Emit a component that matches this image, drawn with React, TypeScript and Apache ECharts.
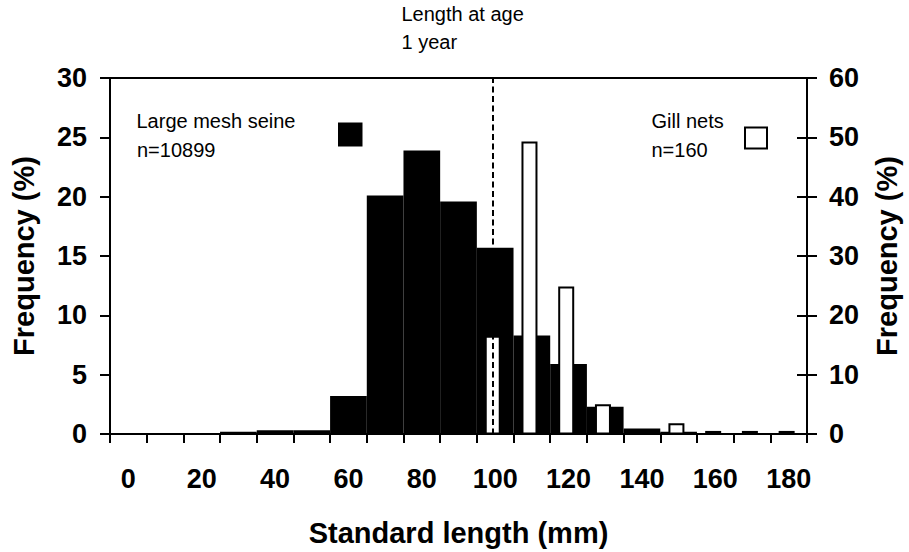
import React, { useEffect, useRef } from "react";
import * as echarts from "echarts";

// Length bins (mm), labelled at bin centres
const lengthBins = ["0", "10", "20", "30", "40", "50", "60", "70", "80", "90", "100", "110", "120", "130", "140", "150", "160", "170", "180"];
// Large mesh seine, % (left axis)
const seinePercent = [0, 0, 0, 0.18, 0.32, 0.32, 3.2, 20.1, 23.9, 19.6, 15.7, 8.3, 5.9, 2.3, 0.46, 0.18, 0.05, 0.03, 0.03];
// Gill nets, % (right axis)
const gillNetPercent = [null, null, null, null, null, null, null, null, null, null, 16.6, 49.3, 24.9, 5.1, null, 1.9, 0.6, 0.6, 0.6];
const ageLineBin = "100";
const ageLabel = ["Length at age", "1 year"];
const seineLabel = ["Large mesh seine", "n=10899"];
const gillLabel = ["Gill nets", "n=160"];
const xTitle = "Standard length (mm)";
const yTitle = "Frequency (%)";

const FONT = 'Arial, "Liberation Sans", Helvetica, sans-serif';

export default function App() {
  const ref = useRef<HTMLDivElement>(null);
  useEffect(() => {
    const chart = echarts.init(ref.current!, null, { renderer: "svg" });
    const tickLabel = { color: "#000", fontSize: 27, fontWeight: "bold", fontFamily: FONT };
    const nameStyle = { color: "#000", fontSize: 29, fontWeight: "bold", fontFamily: FONT };
    const axisLine = { show: true, lineStyle: { color: "#000", width: 2 } };
    const tickStyle = { color: "#000", width: 2 };
    const txt = (text: string, x: number, y: number) => ({
      type: "text",
      x,
      y,
      z: 20,
      style: { text, fontSize: 20, fontFamily: FONT, fill: "#000", verticalAlign: "middle", align: "left" },
    });
    chart.setOption({
      animation: false,
      backgroundColor: "#fff",
      grid: [
        { left: 110, right: 101, top: 78, bottom: 117.5, show: true, borderColor: "#000", borderWidth: 2 },
        { left: 107, right: 104, top: 78, bottom: 117.5 },
      ],
      xAxis: [
        {
          type: "category",
          gridIndex: 0,
          data: lengthBins,
          boundaryGap: true,
          name: xTitle,
          nameLocation: "middle",
          nameGap: 84,
          nameTextStyle: nameStyle,
          axisLine,
          axisTick: { show: true, interval: 0, length: 9, lineStyle: tickStyle },
          axisLabel: { ...tickLabel, interval: 1, margin: 31 },
          splitLine: { show: false },
        },
        { type: "category", gridIndex: 1, data: lengthBins, show: false },
      ],
      yAxis: [
        {
          type: "value",
          gridIndex: 0,
          position: "left",
          min: 0,
          max: 30,
          interval: 5,
          name: yTitle,
          nameLocation: "middle",
          nameRotate: 90,
          nameGap: 72,
          nameTextStyle: nameStyle,
          axisLine,
          axisTick: { show: true, length: 10, lineStyle: tickStyle },
          axisLabel: { ...tickLabel, margin: 23 },
          splitLine: { show: false },
        },
        {
          type: "value",
          gridIndex: 0,
          position: "right",
          min: 0,
          max: 60,
          interval: 10,
          name: yTitle,
          nameLocation: "middle",
          nameRotate: 90,
          nameGap: 65,
          nameTextStyle: nameStyle,
          axisLine,
          axisTick: { show: true, length: 10, lineStyle: tickStyle },
          axisLabel: { ...tickLabel, margin: 22 },
          splitLine: { show: false },
        },
        {
          type: "value",
          gridIndex: 0,
          position: "right",
          min: 0,
          max: 60,
          interval: 10,
          axisLine: { show: false },
          axisTick: { show: true, inside: true, length: 10, lineStyle: tickStyle },
          axisLabel: { show: false },
          splitLine: { show: false },
        },
        { type: "value", gridIndex: 1, min: 0, max: 60, show: false },
      ],
      series: [
        {
          type: "bar",
          name: seineLabel[0],
          xAxisIndex: 0,
          yAxisIndex: 0,
          data: seinePercent,
          barWidth: "100%",
          itemStyle: { color: "#000", borderColor: "#000", borderWidth: 1.6 },
          silent: true,
        },
        {
          type: "bar",
          name: gillLabel[0],
          xAxisIndex: 1,
          yAxisIndex: 3,
          data: gillNetPercent,
          barWidth: 16,
          itemStyle: { color: "#fff", borderColor: "#000", borderWidth: 2 },
          silent: true,
          markLine: {
            silent: true,
            symbol: "none",
            z: 10,
            label: { show: false },
            lineStyle: { color: "#000", width: 2, type: [6, 3.5] },
            data: [{ xAxis: ageLineBin }],
          },
        },
      ],
      graphic: [
        txt(ageLabel[0], 401.5, 13.8),
        txt(ageLabel[1], 401.5, 42),
        txt(seineLabel[0], 136.5, 121.4),
        txt(seineLabel[1], 137, 149.8),
        txt(gillLabel[0], 651.5, 120.8),
        txt(gillLabel[1], 651.5, 149.8),
        { type: "rect", z: 20, shape: { x: 338, y: 122.5, width: 24.5, height: 24 }, style: { fill: "#000" } },
        { type: "rect", z: 20, shape: { x: 745, y: 127.5, width: 22, height: 21 }, style: { fill: "#fff", stroke: "#000", lineWidth: 2 } },
      ],
    });
    return () => chart.dispose();
  }, []);
  return <div ref={ref} style={{ position: "fixed", left: 0, top: 0, width: 909, height: 552 }} />;
}
